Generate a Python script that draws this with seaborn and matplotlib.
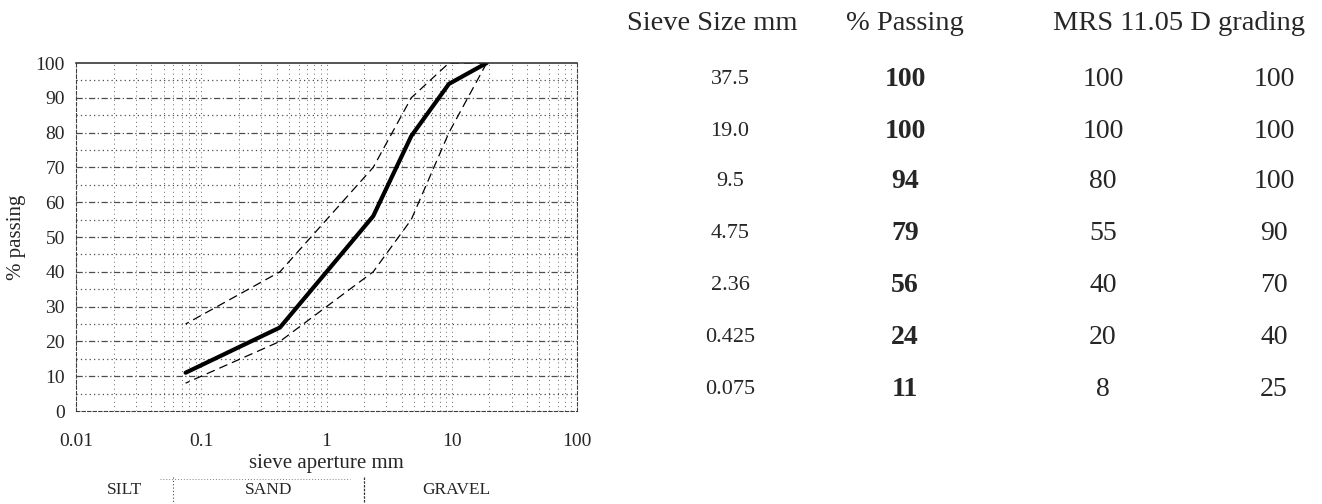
import numpy as np
import pandas as pd
import matplotlib
matplotlib.use("Agg")
import matplotlib.pyplot as plt
import seaborn as sns

# ---- data ----
sieve_sizes = [37.5, 19.0, 9.5, 4.75, 2.36, 0.425, 0.075]
sieve_labels = ["37.5", "19.0", "9.5", "4.75", "2.36", "0.425", "0.075"]
pct_passing = [100, 100, 94, 79, 56, 24, 11]
spec_lower = [100, 100, 80, 55, 40, 20, 8]
spec_upper = [100, 100, 100, 90, 70, 40, 25]
soil_classes = ["SILT", "SAND", "GRAVEL"]
soil_bounds = [0.01, 0.06, 2.0, 60.0]
x_ticks = [0.01, 0.1, 1, 10, 100]
x_tick_labels = ["0.01", "0.1", "1", "10", "100"]
y_ticks = list(range(0, 101, 10))
table_headers = ["Sieve Size mm", "% Passing", "MRS 11.05 D grading"]

sns.set_style("white")
plt.rcParams["font.family"] = ["Liberation Serif", "DejaVu Serif"]

df = pd.DataFrame({
    "size": sieve_sizes * 3,
    "value": pct_passing + spec_lower + spec_upper,
    "series": ["passing"] * 7 + ["lower"] * 7 + ["upper"] * 7,
})
df = df[df["size"] <= 19.0]

fig = plt.figure(figsize=(13.22, 5.04), dpi=100)
ax = fig.add_axes([76 / 1322, 1 - 411 / 504, (577 - 76) / 1322, (411 - 63) / 504])

ax.set_xscale("log")
ax.set_xlim(0.01, 100)
ax.set_ylim(0, 100)

# grid (scanned look: dotted / dash-dot lines)
for y in range(5, 100, 5):
    ax.axhline(y, color="0.3", lw=0.9, ls=(0, (1, 2.5)) if y % 10 else (0, (5, 2, 1, 2)), zorder=0)
for dec in [0.01, 0.1, 1, 10]:
    for m in range(1, 10):
        ax.axvline(dec * m, color="0.4", lw=0.7, ls=(0, (1, 3.5)), zorder=0)

sns.lineplot(data=df[df["series"] == "lower"], x="size", y="value", ax=ax,
             color="black", lw=0.9, linestyle=(0, (7, 4)), estimator=None, sort=False)
sns.lineplot(data=df[df["series"] == "upper"], x="size", y="value", ax=ax,
             color="black", lw=0.9, linestyle=(0, (7, 4)), estimator=None, sort=False)
sns.lineplot(data=df[df["series"] == "passing"], x="size", y="value", ax=ax,
             color="black", lw=3.0, estimator=None, sort=False)

ax.set_xticks(x_ticks)
ax.set_xticklabels(x_tick_labels)
ax.xaxis.set_minor_locator(matplotlib.ticker.NullLocator())
ax.set_yticks(y_ticks)
ax.tick_params(axis="x", length=0, labelsize=14, pad=16)
ax.tick_params(axis="y", length=0, labelsize=14, pad=8)
ax.set_xlabel("sieve aperture mm", fontsize=15, labelpad=3)
ax.set_ylabel("% passing", fontsize=15, labelpad=7)

for side in ["left", "right", "bottom"]:
    ax.spines[side].set_linestyle((0, (3, 2)))
    ax.spines[side].set_linewidth(0.8)
    ax.spines[side].set_color("0.25")
ax.spines["top"].set_linewidth(1.1)
ax.spines["top"].set_color("0.15")

# soil classification row
tr = ax.get_xaxis_transform()
for i, name in enumerate(soil_classes):
    xc = np.sqrt(soil_bounds[i] * soil_bounds[i + 1])
    ax.text(xc, -0.227, name, transform=tr, ha="center", va="center", fontsize=12.5, clip_on=False)
ax.plot([soil_bounds[1]] * 2, [-0.19, -0.262], transform=tr, clip_on=False,
        color="0.3", lw=0.8, ls=(0, (1, 2)))
ax.plot([soil_bounds[2]] * 2, [-0.19, -0.262], transform=tr, clip_on=False,
        color="0.2", lw=0.9, ls=(0, (2, 1)))
ax.plot([0.047, 1.54], [-0.195, -0.195], transform=tr, clip_on=False,
        color="0.5", lw=0.7, ls=(0, (1, 2)))

# table on the right
def fx(px):
    return px / 1322

def fy(py):
    return 1 - py / 504

hdr_x = [712, 905, 1179]
for h, hx in zip(table_headers, hdr_x):
    fig.text(fx(hx), fy(23), h, ha="center", va="center", fontsize=20.5)

row_y = [80, 131, 182, 233, 285, 337, 389]
for i in range(len(sieve_labels)):
    fig.text(fx(730), fy(row_y[i]), sieve_labels[i], ha="center", va="center", fontsize=16)
    fig.text(fx(905), fy(row_y[i]), str(pct_passing[i]), ha="center", va="center",
             fontsize=20, fontweight="bold")
    fig.text(fx(1103), fy(row_y[i]), str(spec_lower[i]), ha="center", va="center", fontsize=20)
    fig.text(fx(1274), fy(row_y[i]), str(spec_upper[i]), ha="center", va="center", fontsize=20)

fig.savefig("out.png", dpi=100)
